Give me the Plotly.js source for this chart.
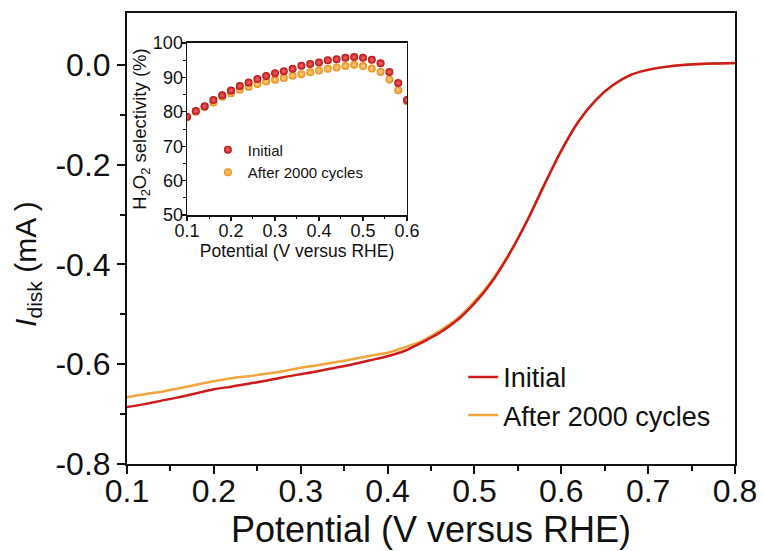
<!DOCTYPE html>
<html>
<head>
<meta charset="utf-8">
<script src="https://cdn.plot.ly/plotly-3.0.1.min.js"></script>
<style>html,body{margin:0;padding:0;background:#fff;}#chart{width:764px;height:551px;}</style>
</head>
<body>
<div id="chart"></div>
<script>
// Main LSV curves (Potential V vs RHE, I_disk mA)
const potential = [0.10,0.12,0.14,0.16,0.18,0.20,0.22,0.24,0.26,0.28,0.30,0.32,0.34,0.36,0.38,0.40,0.42,0.44,0.46,0.48,0.50,0.52,0.54,0.56,0.58,0.60,0.62,0.64,0.66,0.68,0.70,0.72,0.74,0.76,0.78,0.80];
const initialDisk = [-0.686,-0.680,-0.673,-0.666,-0.658,-0.650,-0.645,-0.639,-0.633,-0.626,-0.620,-0.614,-0.607,-0.600,-0.592,-0.584,-0.573,-0.556,-0.537,-0.512,-0.478,-0.435,-0.380,-0.315,-0.242,-0.172,-0.113,-0.070,-0.040,-0.020,-0.010,-0.004,0.000,0.002,0.003,0.004];
const afterDisk   = [-0.666,-0.660,-0.655,-0.648,-0.641,-0.634,-0.628,-0.624,-0.619,-0.614,-0.607,-0.602,-0.596,-0.590,-0.583,-0.577,-0.566,-0.553,-0.533,-0.509,-0.474,-0.432,-0.378,-0.314,-0.242,-0.172,-0.113,-0.070,-0.040,-0.020,-0.010,-0.004,0.000,0.002,0.003,0.004];

// Inset: H2O2 selectivity (%)
const insetPotential = [0.10,0.12,0.14,0.16,0.18,0.20,0.22,0.24,0.26,0.28,0.30,0.32,0.34,0.36,0.38,0.40,0.42,0.44,0.46,0.48,0.50,0.52,0.54,0.56,0.58,0.60];
const initialSel = [78.6,80.2,81.6,83.4,84.8,86.2,87.5,88.5,89.5,90.4,91.2,91.8,92.5,93.4,93.9,94.3,95.0,95.3,95.7,95.9,95.7,95.1,94.1,91.6,88.4,83.4];
const afterSel   = [78.4,80.0,81.4,82.7,84.4,85.4,86.4,87.2,88.1,88.8,89.3,89.8,90.5,90.9,91.5,92.0,92.5,92.9,93.3,93.7,93.3,92.6,91.6,89.4,86.3,83.1];

const seriesNames = ['Initial', 'After 2000 cycles'];
const mainYTicks = [0, -0.2, -0.4, -0.6, -0.8];
const mainYTickText = ['0.0', '-0.2', '-0.4', '-0.6', '-0.8'];
const mainXTicks = [0.1,0.2,0.3,0.4,0.5,0.6,0.7,0.8];

const RED = '#cc1c1c';
const ORANGE = '#f3a53c';
const FONT = 'Liberation Sans, Arial, sans-serif';

const traces = [
  {x: potential, y: afterDisk, type: 'scatter', mode: 'lines', name: seriesNames[1],
   line: {color: ORANGE, width: 2.5, shape: 'spline', smoothing: 0.8}, legend: 'legend', legendrank: 2},
  {x: potential, y: initialDisk, type: 'scatter', mode: 'lines', name: seriesNames[0],
   line: {color: RED, width: 2.5, shape: 'spline', smoothing: 0.8}, legend: 'legend', legendrank: 1},
  {x: insetPotential, y: afterSel, type: 'scatter', mode: 'markers', name: seriesNames[1],
   xaxis: 'x2', yaxis: 'y2', legend: 'legend2', legendrank: 2,
   marker: {size: 8, color: '#e88a14', gradient: {type: 'radial', color: '#ffd58a'}, line: {width: 0}}},
  {x: insetPotential, y: initialSel, type: 'scatter', mode: 'markers', name: seriesNames[0],
   xaxis: 'x2', yaxis: 'y2', legend: 'legend2', legendrank: 1,
   marker: {size: 8, color: '#b80f0f', gradient: {type: 'radial', color: '#f36a6a'}, line: {width: 0}}}
];

const layout = {
  width: 764, height: 551,
  margin: {l: 127, r: 29, t: 13, b: 87},
  paper_bgcolor: '#ffffff', plot_bgcolor: '#ffffff',
  font: {family: FONT, color: '#111'},
  showlegend: true,
  xaxis: {
    range: [0.1, 0.8], tickvals: mainXTicks, ticktext: mainXTicks.map(v => v.toFixed(1)),
    showgrid: false, zeroline: false, showline: true, linecolor: '#111', linewidth: 2, mirror: true,
    ticks: 'outside', ticklen: 8, tickwidth: 2, tickcolor: '#111', ticklabelstandoff: -10,
    minor: {tickvals: [0.15,0.25,0.35,0.45,0.55,0.65,0.75], ticks: 'outside', ticklen: 5, tickwidth: 2, tickcolor: '#111', showgrid: false},
    tickfont: {size: 32, family: FONT, color: '#111'},
    title: {text: 'Potential (V versus RHE)', font: {size: 36, family: FONT, color: '#111'}, standoff: 0}
  },
  yaxis: {
    range: [-0.8, 0.104], tickvals: mainYTicks, ticktext: mainYTickText,
    showgrid: false, zeroline: false, showline: true, linecolor: '#111', linewidth: 2, mirror: true,
    ticks: 'outside', ticklen: 8, tickwidth: 2, tickcolor: '#111',
    minor: {tickvals: [-0.7,-0.5,-0.3,-0.1], ticks: 'outside', ticklen: 5, tickwidth: 2, tickcolor: '#111', showgrid: false},
    tickfont: {size: 32, family: FONT, color: '#111'}
  },
  xaxis2: {
    domain: [0.0987, 0.4605], anchor: 'y2', range: [0.1, 0.6], dtick: 0.1, tickformat: '.1f',
    showgrid: false, zeroline: false, showline: true, linecolor: '#111', linewidth: 1.5, mirror: true,
    ticks: 'outside', ticklen: 4, tickwidth: 1.2, tickcolor: '#111', ticklabelstandoff: -5,
    minor: {dtick: 0.05, ticks: 'outside', ticklen: 2.5, tickwidth: 1, tickcolor: '#111', showgrid: false},
    tickfont: {size: 18, family: FONT, color: '#111'},
    title: {text: 'Potential (V versus RHE)', font: {size: 17.5, family: FONT, color: '#111'}, standoff: 0}
  },
  yaxis2: {
    domain: [0.552, 0.9335], anchor: 'x2', range: [50, 100], dtick: 10,
    showgrid: false, zeroline: false, showline: true, linecolor: '#111', linewidth: 1.5, mirror: true,
    ticks: 'outside', ticklen: 4, tickwidth: 1.2, tickcolor: '#111', ticklabelstandoff: -5,
    minor: {dtick: 5, ticks: 'outside', ticklen: 2.5, tickwidth: 1, tickcolor: '#111', showgrid: false},
    tickfont: {size: 18, family: FONT, color: '#111'},
    title: {text: 'H<sub>2</sub>O<sub>2</sub> selectivity (%)', font: {size: 18.5, family: FONT, color: '#111'}, standoff: 0}
  },
  annotations: [{
    text: '<i>I</i><sub>disk</sub> (mA )', textangle: -90, showarrow: false,
    xref: 'paper', yref: 'paper', x: -0.163, y: 0.4435, xanchor: 'center', yanchor: 'middle',
    font: {size: 30, family: FONT, color: '#111'}
  }],
  legend: {
    x: 0.553, y: 0.2465, xanchor: 'left', yanchor: 'top',
    bgcolor: 'rgba(0,0,0,0)', borderwidth: 0,
    font: {size: 27, family: FONT, color: '#111'}
  },
  legend2: {
    x: 0.133, y: 0.733, xanchor: 'left', yanchor: 'top',
    bgcolor: 'rgba(0,0,0,0)', borderwidth: 0,
    font: {size: 15, family: FONT, color: '#111'}
  }
};

Plotly.newPlot('chart', traces, layout, {staticPlot: true, displayModeBar: false});
</script>
</body>
</html>
